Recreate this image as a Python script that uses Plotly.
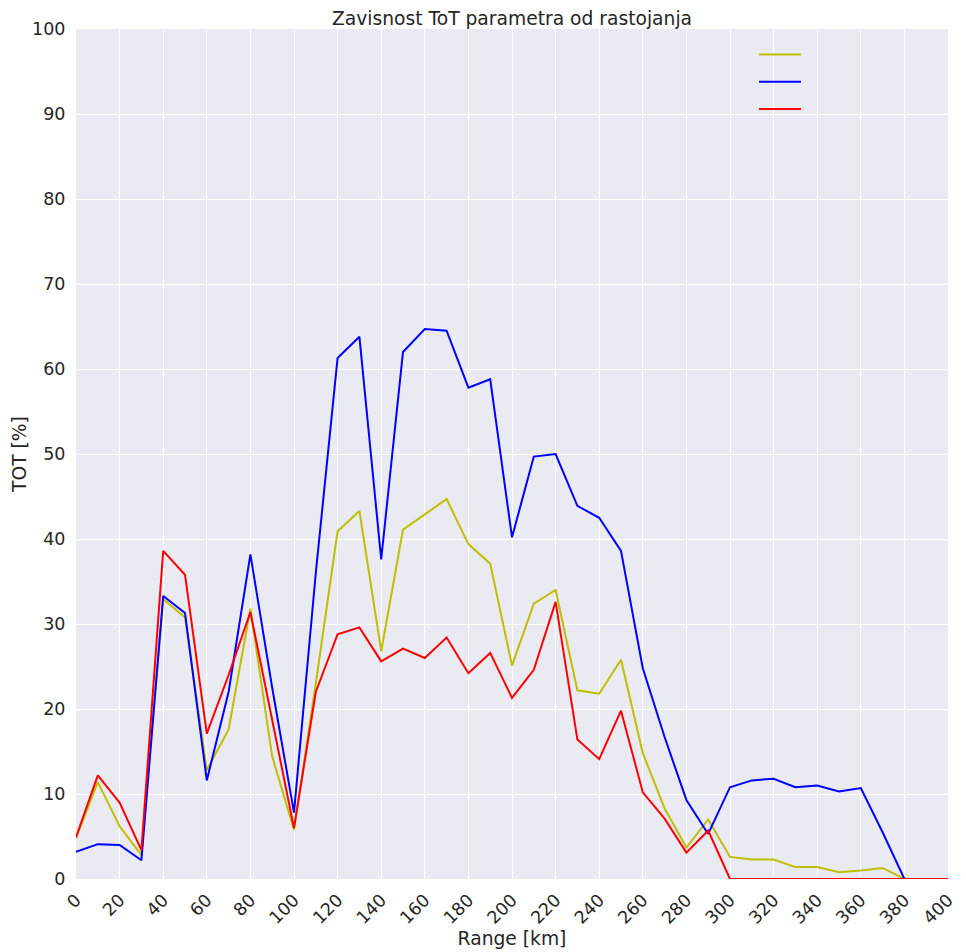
import plotly.graph_objects as go

# Distance bins [km]
range_km = list(range(0, 401, 10))

# ToT share [%] per distance bin for each station
tot_yellow = [4.8, 11.4, 6.2, 2.8, 32.9, 30.8, 12.8, 17.6, 31.8, 14.4,
              5.8, 23.0, 40.9, 43.3, 26.8, 41.1, 42.9, 44.7, 39.4, 37.1,
              25.1, 32.4, 34.0, 22.2, 21.8, 25.8, 14.8, 8.3, 3.7, 7.0,
              2.6, 2.3, 2.3, 1.4, 1.4, 0.8, 1.0, 1.3, 0.0, 0.0, 0.0]
tot_blue = [3.2, 4.1, 4.0, 2.2, 33.3, 31.3, 11.6, 22.0, 38.2, 22.5,
            7.8, 36.0, 61.3, 63.8, 37.6, 62.0, 64.7, 64.5, 57.8, 58.8,
            40.2, 49.7, 50.0, 43.9, 42.5, 38.6, 24.8, 16.7, 9.3, 5.3,
            10.8, 11.6, 11.8, 10.8, 11.0, 10.3, 10.7, 5.5, 0.0, 0.0, 0.0]
tot_red = [4.9, 12.2, 9.0, 3.4, 38.6, 35.8, 17.1, 24.0, 31.4, 18.5,
           6.0, 22.0, 28.8, 29.6, 25.6, 27.1, 26.0, 28.4, 24.2, 26.6,
           21.3, 24.6, 32.6, 16.4, 14.1, 19.8, 10.2, 7.1, 3.1, 5.7,
           0.0, 0.0, 0.0, 0.0, 0.0, 0.0, 0.0, 0.0, 0.0, 0.0, 0.0]

x_ticks = list(range(0, 401, 20))
y_ticks = list(range(0, 101, 10))

series = [
    (tot_yellow, "#BFBF00"),
    (tot_blue, "#0000FF"),
    (tot_red, "#FF0000"),
]

fig = go.Figure()
for values, color in series:
    fig.add_trace(go.Scatter(
        x=range_km, y=values, mode="lines", name="",
        line=dict(color=color, width=2),
    ))

text_color = "#262626"
font = "DejaVu Sans, sans-serif"
hidden_tick = "rgba(0,0,0,0)"

fig.update_layout(
    width=966, height=952,
    margin=dict(l=76, r=18, t=29, b=73),
    paper_bgcolor="white",
    plot_bgcolor="#EAEAF2",
    font=dict(family=font, color=text_color, size=18),
    title=dict(text="Zavisnost ToT parametra od rastojanja",
               x=0.5, xanchor="center", xref="paper",
               y=1, yref="paper", yanchor="bottom", pad=dict(b=4),
               font=dict(size=18.7, color=text_color)),
    showlegend=True,
    legend=dict(x=0.7775, y=0.992, xanchor="left", yanchor="top",
                bgcolor="rgba(0,0,0,0)", font=dict(size=18.7),
                itemwidth=42),
    xaxis=dict(range=[0, 400], tickvals=x_ticks, tickangle=-45,
               showgrid=True, gridcolor="white", gridwidth=1,
               zeroline=False, showline=False, automargin=False,
               ticks="outside", ticklen=3, tickcolor=hidden_tick,
               title=dict(text="Range [km]", font=dict(size=18.7), standoff=1),
               tickfont=dict(size=17.5)),
    yaxis=dict(range=[0, 100], tickvals=y_ticks,
               showgrid=True, gridcolor="white", gridwidth=1,
               zeroline=False, showline=False, automargin=False,
               ticks="outside", ticklen=6, tickcolor=hidden_tick,
               title=dict(text="TOT [%]", font=dict(size=18.7), standoff=0),
               tickfont=dict(size=17.5)),
)

fig.write_html("out.html")
